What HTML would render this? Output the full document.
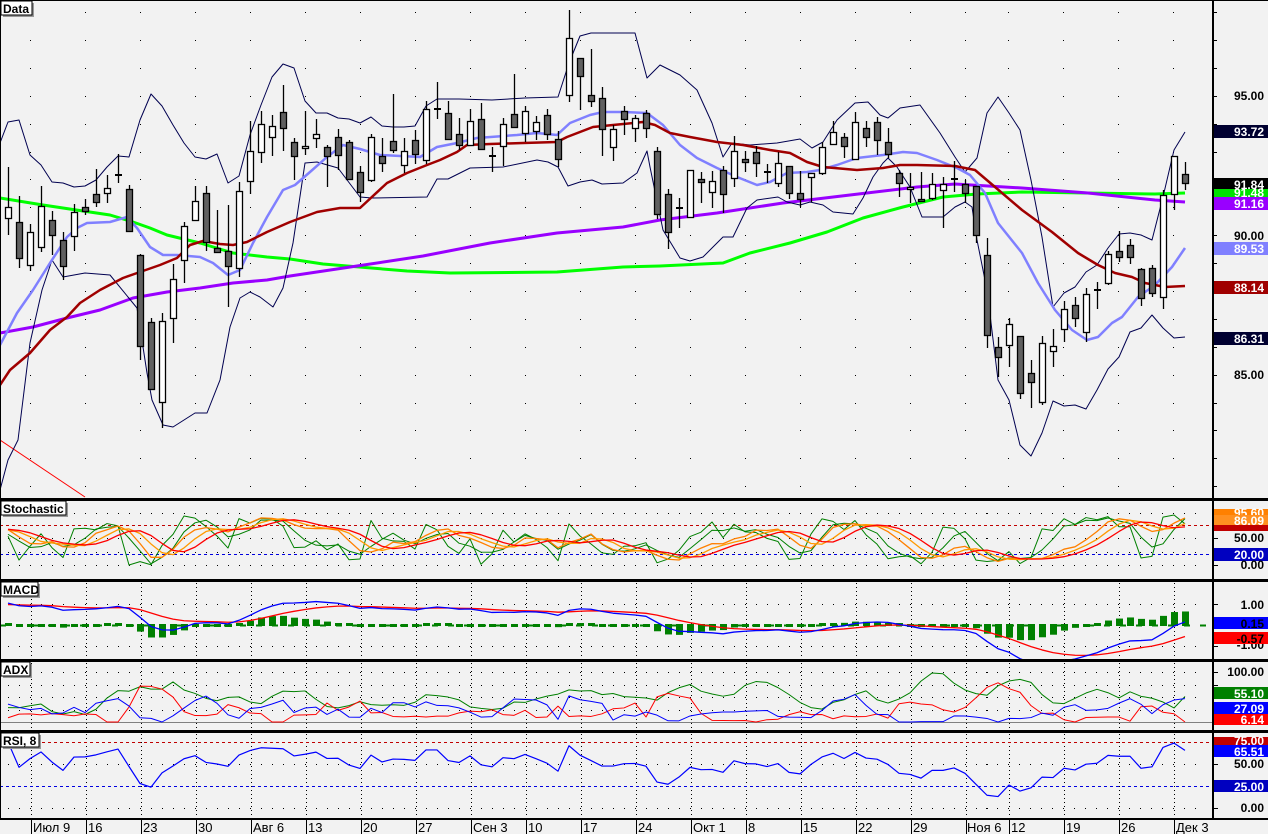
<!DOCTYPE html>
<html><head><meta charset="utf-8"><style>
html,body{margin:0;padding:0;background:#f2f2f2;}
svg{display:block;font-family:"Liberation Sans",sans-serif;}
.ax{font:bold 12px "Liberation Sans",sans-serif;}
.dt{font:13px "Liberation Sans",sans-serif;}
.hd{font:bold 12px "Liberation Sans",sans-serif;}
</style></head><body>
<svg id="s" width="1268" height="834" viewBox="0 0 1268 834" xmlns="http://www.w3.org/2000/svg">
<defs>
<clipPath id="c0"><rect x="0" y="0" width="1213" height="498"/></clipPath>
<clipPath id="c1"><rect x="0" y="502" width="1213" height="77"/></clipPath>
<clipPath id="c2"><rect x="0" y="582" width="1213" height="77"/></clipPath>
<clipPath id="c3"><rect x="0" y="663" width="1213" height="67"/></clipPath>
<clipPath id="c4"><rect x="0" y="734" width="1213" height="84"/></clipPath>
</defs>
<rect x="0" y="0" width="1268" height="834" fill="#f2f2f2"/>
<g id="grid"></g>
<g id="plots"></g>
<g fill="#000">
<rect x="0" y="0" width="1268" height="1"/>
<rect x="0" y="0" width="1" height="820"/>
<rect x="1212" y="0" width="2" height="820"/>
<rect x="0" y="498" width="1268" height="3"/>
<rect x="0" y="579" width="1268" height="3"/>
<rect x="0" y="659" width="1268" height="3"/>
<rect x="0" y="730" width="1268" height="3"/>
<rect x="0" y="818" width="1268" height="2"/>
</g>
<g id="ticks"></g>
<g class="hd">
<rect x="3" y="3" width="31" height="14" fill="#999"/><rect x="1" y="1" width="31" height="14" fill="#fff" stroke="#000"/><text x="3" y="13">Data</text>
<rect x="3" y="503" width="65" height="14" fill="#999"/><rect x="1" y="501" width="65" height="14" fill="#fff" stroke="#000"/><text x="3" y="513">Stochastic</text>
<rect x="3" y="584" width="37" height="14" fill="#999"/><rect x="1" y="582" width="37" height="14" fill="#fff" stroke="#000"/><text x="3" y="594">MACD</text>
<rect x="3" y="664" width="29" height="14" fill="#999"/><rect x="1" y="662" width="29" height="14" fill="#fff" stroke="#000"/><text x="3" y="674">ADX</text>
<rect x="3" y="735" width="38" height="14" fill="#999"/><rect x="1" y="733" width="38" height="14" fill="#fff" stroke="#000"/><text x="3" y="745">RSI, 8</text>
</g>
<g class="ax" text-anchor="end">
<text x="1264" y="100" fill="#000">95.00</text>
<text x="1264" y="240" fill="#000">90.00</text>
<text x="1264" y="379" fill="#000">85.00</text>
<rect x="1214" y="125" width="54" height="13" fill="#000030"/><text x="1264" y="136" fill="#fff">93.72</text>
<rect x="1214" y="178" width="54" height="12" fill="#000"/><text x="1264" y="189" fill="#fff">91.84</text>
<rect x="1214" y="189" width="54" height="8" fill="#00e000"/><text x="1264" y="197" fill="#fff">91.48</text>
<rect x="1214" y="197" width="54" height="13" fill="#9900ff"/><text x="1264" y="208" fill="#fff">91.16</text>
<rect x="1214" y="242" width="54" height="13" fill="#8080ff"/><text x="1264" y="253" fill="#fff">89.53</text>
<rect x="1214" y="281" width="54" height="13" fill="#a00000"/><text x="1264" y="292" fill="#fff">88.14</text>
<rect x="1214" y="332" width="54" height="13" fill="#000030"/><text x="1264" y="343" fill="#fff">86.31</text>

<rect x="1214" y="509" width="54" height="8" fill="#ff8000"/><text x="1264" y="517" fill="#fff">95.60</text>
<rect x="1214" y="515" width="54" height="11" fill="#ff9020"/><text x="1264" y="525" fill="#fff">86.09</text>
<rect x="1214" y="525" width="54" height="6" fill="#c00000"/>
<text x="1264" y="542" fill="#000">50.00</text>
<rect x="1214" y="548" width="54" height="13" fill="#0000c0"/><text x="1264" y="559" fill="#fff">20.00</text>
<text x="1264" y="569" fill="#000">0.00</text>

<text x="1264" y="609" fill="#000">1.00</text>
<text x="1264" y="649" fill="#000">-1.00</text>
<rect x="1214" y="617" width="54" height="12" fill="#0000ff"/><text x="1264" y="628" fill="#000">0.15</text>
<rect x="1214" y="632" width="54" height="12" fill="#ff0000"/><text x="1264" y="643" fill="#000">-0.57</text>

<text x="1264" y="676" fill="#000">100.00</text>
<rect x="1214" y="687" width="54" height="12" fill="#008000"/><text x="1264" y="698" fill="#fff">55.10</text>
<rect x="1214" y="702" width="54" height="12" fill="#0000ff"/><text x="1264" y="713" fill="#fff">27.09</text>
<rect x="1214" y="714" width="54" height="11" fill="#ff0000"/><text x="1264" y="724" fill="#fff">6.14</text>

<rect x="1214" y="737" width="54" height="9" fill="#c00000"/><text x="1264" y="745" fill="#fff">75.00</text>
<rect x="1214" y="745" width="54" height="12" fill="#0000ff"/><text x="1264" y="756" fill="#fff">65.51</text>
<text x="1264" y="768" fill="#000">50.00</text>
<rect x="1214" y="780" width="54" height="12" fill="#0000c0"/><text x="1264" y="791" fill="#fff">25.00</text>
<text x="1264" y="812" fill="#000">0.00</text>
</g>
<g class="dt" fill="#000">
<text x="33" y="832">Июл 9</text><text x="88" y="832">16</text><text x="143" y="832">23</text><text x="198" y="832">30</text>
<text x="253" y="832">Авг 6</text><text x="308" y="832">13</text><text x="363" y="832">20</text><text x="418" y="832">27</text>
<text x="473" y="832">Сен 3</text><text x="528" y="832">10</text><text x="583" y="832">17</text><text x="638" y="832">24</text>
<text x="693" y="832">Окт 1</text><text x="748" y="832">8</text><text x="803" y="832">15</text><text x="858" y="832">22</text>
<text x="913" y="832">29</text><text x="967" y="832">Ноя 6</text><text x="1011" y="832">12</text><text x="1066" y="832">19</text>
<text x="1121" y="832">26</text><text x="1176" y="832">Дек 3</text>
</g>
</svg>
<script>
(function(){
var NS="http://www.w3.org/2000/svg";
function el(p,t,a){var e=document.createElementNS(NS,t);for(var k in a)e.setAttribute(k,a[k]);p.appendChild(e);return e;}
var G=document.getElementById('grid'),P=document.getElementById('plots'),T=document.getElementById('ticks');
var weeks=[];for(var k=0;k<=17;k++)weeks.push(31+55*k);weeks.push(1009,1064,1119,1174);
weeks.forEach(function(x){el(T,'rect',{x:x,y:820,width:1,height:14,fill:'#000'});});
for(var y=12;y<498;y+=27.9){var major=Math.abs(((y-96)/27.9)%5)<0.01;
 if(major){for(var x=8;x<1210;x+=11)el(G,'rect',{x:x,y:Math.round(y),width:1,height:1,fill:'#000'});}
 else weeks.forEach(function(x){el(G,'rect',{x:x-1,y:Math.round(y),width:1,height:1,fill:'#000'});});
 el(T,'rect',{x:1214,y:Math.round(y),width:major?6:3,height:1,fill:'#000'});}
function rows(ys){ys.forEach(function(y){weeks.forEach(function(x){for(var d=-22;d<=22;d+=11)el(G,'rect',{x:x+d-1,y:y,width:1,height:1,fill:'#000'});});el(T,'rect',{x:1214,y:y,width:4,height:1,fill:'#000'});});}
function vlines(y0,y1){weeks.forEach(function(x){el(G,'line',{x1:x+0.5,y1:y0,x2:x+0.5,y2:y1,stroke:'#000','stroke-dasharray':'1,3'});});}
rows([513,538,552,565]);rows([604,646]);rows([672,685,697,710]);rows([764,808]);
vlines(583,659);vlines(663,729);vlines(734,818);
function hd(y,c){el(G,'line',{x1:0,y1:y+0.5,x2:1212,y2:y+0.5,stroke:c,'stroke-dasharray':'3,3','stroke-width':1});}
hd(525,'#c00000');hd(554,'#0000e0');hd(742,'#c00000');hd(786,'#0000e0');
el(G,'line',{x1:0,y1:722.5,x2:1212,y2:722.5,stroke:'#808080'});
el(G,'line',{x1:0,y1:625.5,x2:1212,y2:625.5,stroke:'#008000','stroke-dasharray':'6,10','stroke-width':2});

var C=[[207,218,167,235,1],[222,258,196,268,0],[232,265,224,271,1],[206,247,186,252,1],[220,235,211,255,0],[240,266,232,280,0],[212,236,204,251,1],[207,211,199,215,0],[194,202,169,207,0],[188,193,175,203,1],[175,175,154,183,1],[189,231,185,231,0],[255,346,254,360,0],[322,389,318,390,0],[321,402,313,428,1],[279,318,264,343,1],[226,260,222,283,1],[201,220,186,220,1],[193,242,186,251,0],[248,252,210,253,0],[251,266,205,307,0],[191,268,182,277,1],[151,181,121,194,1],[124,152,111,163,1],[126,137,115,156,1],[112,128,85,151,0],[142,156,138,180,0],[146,148,111,155,1],[134,138,119,148,1],[147,156,145,187,0],[137,155,129,170,0],[142,179,140,180,0],[172,192,166,202,0],[137,180,134,182,1],[156,163,138,172,0],[141,150,94,153,0],[151,165,138,173,1],[140,154,130,164,0],[109,160,101,164,1],[109,109,82,119,1],[113,139,101,139,0],[134,145,118,150,0],[121,145,109,145,1],[119,149,103,149,0],[156,156,147,172,0],[124,146,118,166,1],[114,127,74,127,0],[111,133,106,142,1],[122,131,116,140,1],[115,134,109,140,0],[139,159,131,167,0],[38,95,10,102,1],[58,76,58,110,0],[95,101,49,107,0],[98,129,87,156,0],[129,147,125,161,1],[111,119,106,135,0],[118,128,115,142,1],[113,128,110,138,0],[151,214,147,219,0],[194,232,189,249,0],[208,208,198,228,0],[170,217,170,217,1],[179,182,172,203,0],[181,192,171,208,1],[170,194,166,213,0],[151,178,136,187,1],[159,162,151,172,0],[152,163,146,177,0],[172,172,164,183,0],[163,183,152,187,1],[166,193,166,199,0],[193,199,171,207,0],[173,177,173,202,1],[147,173,142,175,1],[132,144,121,144,1],[137,146,133,158,0],[122,159,112,160,1],[128,137,121,147,0],[122,140,117,155,0],[142,154,128,158,0],[173,183,170,197,0],[187,189,173,203,1],[199,201,172,202,0],[184,198,173,200,1],[184,190,177,228,1],[179,179,161,192,0],[184,193,180,203,0],[186,235,186,243,0],[255,335,238,348,0],[347,357,337,377,0],[324,345,318,367,1],[336,393,336,399,0],[373,382,360,408,0],[343,402,336,405,1],[346,351,329,367,1],[309,329,301,342,1],[305,318,297,327,0],[294,332,288,342,1],[290,290,282,309,0],[254,283,251,285,1],[251,257,231,262,0],[245,257,239,264,0],[269,298,268,306,0],[268,293,265,297,0],[195,297,190,309,1],[156,194,156,210,1],[174,183,162,190,0]];
function X(i){return 8+11*i;}
function pr(y){return 95-(y-96)/27.9;}
function pl(g,pts,c,w,cp){el(g,'polyline',{points:pts.map(function(p){return p[0]+','+p[1];}).join(' '),fill:'none',stroke:c,'stroke-width':w,'clip-path':'url(#'+cp+')','stroke-linejoin':'round'});}
var up=[[0,143],[8,122],[19,120],[30,155],[41,165],[52,182],[63,183],[74,187],[85,186],[96,180],[107,167],[118,156],[129,157],[140,120],[151,94],[162,106],[173,125],[184,143],[195,157],[206,159],[217,154],[228,183],[239,176],[250,135],[261,105],[272,77],[283,64],[294,68],[305,101],[316,113],[327,113],[338,118],[349,119],[360,123],[371,117],[382,126],[393,127],[404,127],[415,126],[426,106],[437,99],[459,99],[492,100],[525,98],[558,97],[569,63],[580,36],[591,33],[635,33],[647,78],[660,65],[680,75],[697,90],[712,123],[723,157],[732,143],[750,145],[777,143],[800,139],[812,148],[823,142],[837,120],[855,103],[868,102],[880,115],[888,118],[900,108],[920,105],[940,133],[955,157],[965,172],[977,158],[987,113],[998,97],[1009,113],[1020,130],[1031,180],[1042,237],[1053,307],[1064,293],[1075,287],[1086,272],[1097,265],[1108,248],[1119,234],[1130,233],[1141,235],[1152,240],[1163,197],[1174,150],[1185,132]];
var lo=[[0,490],[8,460],[18,440],[30,343],[42,290],[52,260],[63,277],[85,273],[110,275],[137,308],[147,373],[152,400],[163,425],[173,427],[195,413],[207,413],[220,380],[230,327],[240,298],[250,292],[260,297],[273,307],[283,288],[293,243],[305,163],[317,162],[338,168],[360,197],[372,198],[427,197],[437,179],[448,179],[470,168],[503,167],[537,160],[548,162],[558,167],[568,186],[580,182],[592,180],[602,184],[623,183],[637,173],[647,151],[650,167],[663,230],[680,258],[690,261],[703,257],[723,237],[733,237],[747,208],[757,200],[778,197],[787,202],[800,205],[810,202],[823,205],[833,212],[853,214],[863,198],[873,177],[883,163],[888,158],[897,167],[910,187],[922,217],[943,217],[955,207],[965,202],[972,207],[977,240],[987,290],[998,380],[1009,400],[1020,445],[1031,456],[1042,433],[1053,401],[1064,406],[1075,405],[1086,409],[1097,390],[1108,369],[1119,357],[1130,332],[1141,328],[1152,315],[1163,328],[1174,338],[1185,337]];
var mid=[[0,345],[17,313],[33,290],[50,263],[67,237],[77,228],[87,223],[110,222],[127,217],[137,228],[150,247],[163,255],[177,255],[200,257],[213,263],[228,275],[240,270],[253,243],[267,217],[283,190],[295,185],[310,172],[327,157],[343,145],[360,149],[380,155],[420,157],[437,147],[457,143],[477,138],[517,135],[537,133],[557,135],[570,123],[590,115],[603,112],[623,112],[647,113],[663,125],[680,145],[697,158],[717,168],[737,177],[757,185],[770,182],[787,173],[807,172],[820,170],[837,165],[857,158],[883,155],[903,152],[917,153],[937,160],[957,168],[970,175],[985,193],[998,223],[1022,253],[1038,283],[1055,310],[1072,330],[1087,340],[1098,337],[1112,323],[1122,317],[1138,297],[1155,285],[1172,267],[1185,248]];
var sma=[[0,385],[10,370],[30,353],[50,330],[67,317],[80,303],[100,290],[123,278],[140,272],[160,265],[177,258],[190,245],[203,241],[220,244],[233,245],[247,242],[267,232],[290,222],[317,212],[340,208],[360,208],[387,183],[407,173],[427,165],[440,160],[457,152],[467,145],[490,144],[523,143],[557,142],[567,137],[593,127],[613,125],[643,122],[655,125],[670,133],[690,137],[717,142],[743,145],[770,150],[790,153],[807,162],[823,167],[857,170],[883,168],[900,165],[917,165],[955,166],[975,170],[995,187],[1022,210],[1052,232],[1078,253],[1098,265],[1115,273],[1132,277],[1145,283],[1165,287],[1185,286]];
var pur=[[0,333],[33,327],[67,318],[100,310],[133,298],[167,292],[200,288],[233,283],[267,280],[290,276],[357,266],[423,256],[490,243],[557,233],[623,227],[660,220],[717,213],[783,203],[850,195],[917,187],[955,184],[1022,188],[1088,193],[1155,200],[1185,202]];
var grn=[[0,198],[43,205],[83,211],[110,215],[133,222],[150,228],[167,235],[200,243],[233,253],[267,257],[290,259],[323,264],[407,271],[450,273],[557,272],[623,267],[660,266],[723,263],[750,253],[790,243],[827,232],[863,218],[903,207],[943,197],[977,194],[1022,192],[1155,194],[1185,193]];
el(P,'line',{x1:0,y1:440,x2:85,y2:497,stroke:'#ff0000','stroke-width':1});
pl(P,grn,'#00ff00',3,'c0');pl(P,pur,'#9900ff',3,'c0');
pl(P,up,'#000050',1,'c0');pl(P,lo,'#000050',1,'c0');
pl(P,mid,'#8080ff',2.5,'c0');pl(P,sma,'#a00000',2.5,'c0');
C.forEach(function(c,i){var x=X(i);
 el(P,'line',{x1:x+0.5,y1:c[2],x2:x+0.5,y2:c[3],stroke:'#000','stroke-width':1.3});
 if(c[1]-c[0]<2){el(P,'rect',{x:x-3,y:c[0]-1,width:7,height:2,fill:'#000'});}
 else el(P,'rect',{x:x-2.5,y:c[0]+0.5,width:6,height:c[1]-c[0],fill:c[4]?'#fff':'#606060',stroke:'#000','stroke-width':1.3});
});
var H=[],L=[],CL=[];
for(var j=0;j<40;j++){var b=84+6.5*j/39+0.6*Math.sin(j*1.3);H.push(b+0.6);L.push(b-0.6);CL.push(b+0.2*Math.cos(j));}
C.forEach(function(c){H.push(pr(c[2]));L.push(pr(c[3]));CL.push(c[4]?pr(c[0]):pr(c[1]));});
var M=CL.length,off=40;
function sma_(a,n){return a.map(function(v,i){var s=0,k=0;for(var j=Math.max(0,i-n+1);j<=i;j++){s+=a[j];k++;}return s/k;});}
function ema(a,n){var r=[],k=2/(n+1);a.forEach(function(v,i){r.push(i?r[i-1]+k*(v-r[i-1]):v);});return r;}
function stoch(n){return CL.map(function(v,i){var hh=-1e9,ll=1e9;for(var j=Math.max(0,i-n+1);j<=i;j++){hh=Math.max(hh,H[j]);ll=Math.min(ll,L[j]);}return hh>ll?(v-ll)/(hh-ll)*100:50;});}
function ser(a,f){var r=[];for(var i=off;i<M;i++)r.push([X(i-off),f(a[i])]);return r;}
var k5=stoch(5),g2=sma_(k5,3),k10=stoch(10),o1=sma_(k10,3),o2=sma_(o1,3),r1=sma_(o2,3);
var sy=function(v){return 565-v*0.5;};
pl(P,ser(k5,sy),'#008000',1,'c1');pl(P,ser(g2,sy),'#008000',1,'c1');
pl(P,ser(o1,sy),'#ff8000',1.3,'c1');pl(P,ser(o2,sy),'#ff9900',1.3,'c1');pl(P,ser(r1,sy),'#ff0000',1.3,'c1');
var e12=ema(CL,12),e26=ema(CL,26),mc=e12.map(function(v,i){return v-e26[i];}),sg=ema(mc,9);
var my=function(v){return 625-v*20;};
for(var i=off;i<M;i++){var d=(mc[i]-sg[i])*20,x=X(i-off);var h=Math.max(Math.abs(d),3);
 el(P,'rect',{x:x-3,y:d>0?625-h+1:624,width:7,height:h,fill:'#008000','clip-path':'url(#c2)'});}
pl(P,ser(sg,my),'#ff0000',1.3,'c2');pl(P,ser(mc,my),'#0000ff',1.3,'c2');
var pdm=[0],mdm=[0],tr=[H[0]-L[0]];
for(var i=1;i<M;i++){var u=H[i]-H[i-1],dd=L[i-1]-L[i];pdm.push(u>dd&&u>0?u:0);mdm.push(dd>u&&dd>0?dd:0);tr.push(Math.max(H[i]-L[i],Math.abs(H[i]-CL[i-1]),Math.abs(L[i]-CL[i-1])));}
var n=4,st=sma_(tr,n),sp=sma_(pdm,n),sm=sma_(mdm,n);
var pdi=st.map(function(v,i){return 100*sp[i]/v;}),mdi=st.map(function(v,i){return 100*sm[i]/v;});
var dx=pdi.map(function(v,i){return (v+mdi[i])?100*Math.abs(v-mdi[i])/(v+mdi[i]):0;}),adx=sma_(dx,4);
var ay=function(v){return 722-Math.min(v,100)*0.5;};
pl(P,ser(adx,ay),'#008000',1,'c3');pl(P,ser(mdi,ay),'#ff0000',1,'c3');pl(P,ser(pdi,ay),'#0000ff',1,'c3');
var ag=0,al=0,rsi=[50];
for(var i=1;i<M;i++){var ch=CL[i]-CL[i-1];ag=(ag*7+Math.max(ch,0))/8;al=(al*7+Math.max(-ch,0))/8;rsi.push(al?100-100/(1+ag/al):100);}
pl(P,ser(rsi,function(v){return 808-v*0.88;}),'#0000ff',1.2,'c4');
})();
</script>
</body></html>
